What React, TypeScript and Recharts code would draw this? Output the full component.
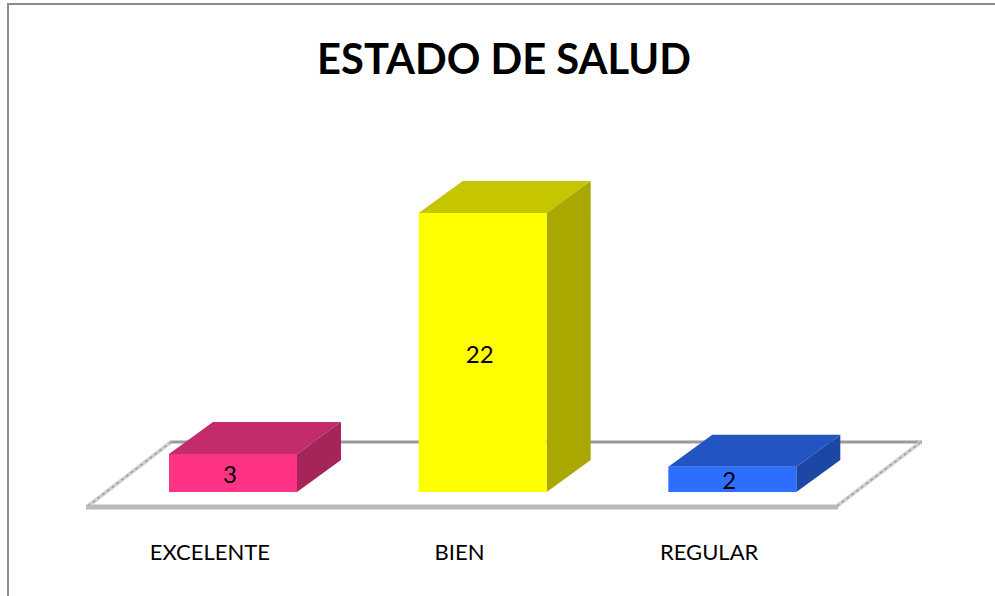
import React from 'react';
import { BarChart, Bar, XAxis, YAxis, LabelList, Customized } from 'recharts';

const categories = ['EXCELENTE', 'BIEN', 'REGULAR'];
const values = [3, 22, 2];
const frontColors = ['#ff3385', '#ffff00', '#2e6eff'];
const topColors = ['#c42b6b', '#c6c600', '#2255c2'];
const sideColors = ['#a5245a', '#a8a800', '#1d47a5'];

const data = categories.map((name, i) => ({ name, value: values[i] }));

const DX = 44;
const DY = 32;
const FONT = 'Lato, "Open Sans", sans-serif';

const Bar3D = (props: any) => {
  const { x, y, width, height, index } = props;
  const r = x + width;
  const b = y + height;
  return (
    <g>
      <polygon
        points={`${x},${y} ${x + DX},${y - DY} ${r + DX},${y - DY} ${r},${y}`}
        fill={topColors[index]}
      />
      <polygon
        points={`${r},${y} ${r + DX},${y - DY} ${r + DX},${b - DY} ${r},${b}`}
        fill={sideColors[index]}
      />
      <rect x={x} y={y} width={width} height={height} fill={frontColors[index]} />
    </g>
  );
};

const Decor = () => (
  <g>
    <line x1={8} y1={4} x2={995} y2={4} stroke="#8c8c8c" strokeWidth={2} />
    <line x1={8} y1={3} x2={8} y2={596} stroke="#8c8c8c" strokeWidth={2} />
    <text
      x={504}
      y={74}
      textAnchor="middle"
      fontFamily={FONT}
      fontWeight={700}
      fontSize={41.7}
      fill="#000"
    >
      ESTADO DE SALUD
    </text>
    <line x1={170} y1={442} x2={922} y2={442} stroke="#9a9a9a" strokeWidth={3} />
    <line x1={86} y1={507} x2={838} y2={507} stroke="#b9b9b9" strokeWidth={5} />
    <line x1={88} y1={506} x2={171} y2={442} stroke="#d2d2d2" strokeWidth={4} />
    <line x1={88} y1={506} x2={171} y2={442} stroke="#a0a0a0" strokeWidth={1.5} strokeDasharray="3 3" />
    <line x1={837} y1={506} x2={921} y2={442} stroke="#d2d2d2" strokeWidth={4} />
    <line x1={837} y1={506} x2={921} y2={442} stroke="#a0a0a0" strokeWidth={1.5} strokeDasharray="3 3" />
  </g>
);

const Tick = (props: any) => {
  const { x, payload } = props;
  return (
    <text x={x - 23} y={560} textAnchor="middle" fontFamily={FONT} fontSize={22} fill="#000">
      {payload.value}
    </text>
  );
};

const ValueLabel = (props: any) => {
  const { x, y, width, height, value } = props;
  return (
    <text
      x={x + width / 2 - 3}
      y={y + height / 2 + 10}
      textAnchor="middle"
      fontFamily={FONT}
      fontSize={24}
      fill="#000"
    >
      {value}
    </text>
  );
};

export default function App() {
  return (
    <div style={{ position: 'absolute', left: 0, top: 0, width: 995, height: 596, background: '#fff' }}>
      <BarChart
        width={995}
        height={596}
        data={data}
        margin={{ top: 175, right: 138, bottom: 0, left: 108 }}
        barSize={128}
      >
        <Customized component={Decor} />
        <XAxis
          dataKey="name"
          axisLine={false}
          tickLine={false}
          height={104}
          interval={0}
          tick={<Tick />}
        />
        <YAxis hide domain={[0, 25]} />
        <Bar dataKey="value" isAnimationActive={false} shape={<Bar3D />}>
          <LabelList dataKey="value" content={<ValueLabel />} />
        </Bar>
      </BarChart>
    </div>
  );
}
